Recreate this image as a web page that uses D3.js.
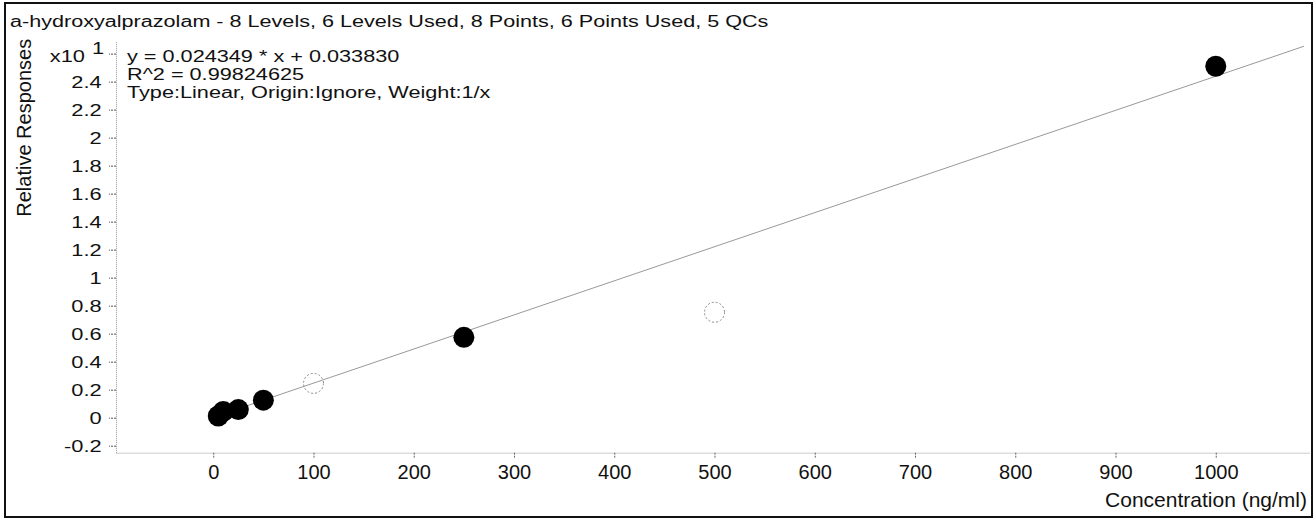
<!DOCTYPE html>
<html>
<head>
<meta charset="utf-8">
<script src="https://cdn.jsdelivr.net/npm/d3@7"></script>
<style>
  html, body { margin: 0; padding: 0; background: #fff; }
  svg { display: block; font-family: "Liberation Sans", Arial, sans-serif; }
</style>
</head>
<body>
<svg id="chart" width="1314" height="521"></svg>
<script>
// ---- data (relative responses shown in units of x10^1) ----
const calConc = [5, 10, 25, 50, 250, 1000];
const calResp = [0.012, 0.045, 0.058, 0.125, 0.574, 2.51];
const qcConc = [100, 500];
const qcResp = [0.245, 0.753];
const fitSlope = 0.024349;      // per ng/ml (actual response units)
const fitIntercept = 0.033830;
const fitRange = [0, 1088];
const yTickValues = [-0.2, 0, 0.2, 0.4, 0.6, 0.8, 1, 1.2, 1.4, 1.6, 1.8, 2, 2.2, 2.4];
const yTickLabels = ["-0.2", "0", "0.2", "0.4", "0.6", "0.8", "1", "1.2", "1.4", "1.6", "1.8", "2", "2.2", "2.4"];
const xTickValues = [0, 100, 200, 300, 400, 500, 600, 700, 800, 900, 1000];
const titleText = "a-hydroxyalprazolam - 8 Levels, 6 Levels Used, 8 Points, 6 Points Used, 5 QCs";
const infoLines = ["y = 0.024349 * x  + 0.033830", "R^2 = 0.99824625", "Type:Linear, Origin:Ignore, Weight:1/x"];
const exponentTick = 2.6;

const svg = d3.select("#chart");

// frame
svg.append("rect").attr("x", 5).attr("y", 3).attr("width", 1307).attr("height", 514)
  .attr("fill", "none").attr("stroke", "#111").attr("stroke-width", 2);

const x = d3.scaleLinear().domain([-97, 1094]).range([116, 1310]);
const y = d3.scaleLinear().domain([-0.25, 2.69]).range([452.7, 41]);

function wideText(sel, px, py, str, size, sx, anchor) {
  return sel.append("text")
    .attr("transform", `translate(${px},${py}) scale(${sx},1)`)
    .attr("font-size", size)
    .attr("text-anchor", anchor || "start")
    .attr("fill", "#111")
    .text(str);
}

// title
wideText(svg, 10, 26.5, titleText, 15.6, 1.385);

// y axis
const yAxis = svg.append("g").attr("transform", `translate(${x.range()[0]},0)`)
  .call(d3.axisLeft(y).tickValues(yTickValues.concat([exponentTick])).tickSize(7).tickSizeOuter(0)
    .tickFormat((d, i) => i < yTickLabels.length ? yTickLabels[i] : ""));
yAxis.select(".domain").attr("stroke", "#999").attr("stroke-dasharray", "1,1");
yAxis.selectAll(".tick line").attr("stroke", "#555").attr("stroke-dasharray", "2,1");
yAxis.selectAll(".tick text")
  .attr("font-size", 15.6).attr("fill", "#111").attr("font-family", null)
  .attr("x", -10.3).attr("dy", "0.36em").attr("transform", "scale(1.4,1)");

// exponent label
wideText(svg, 85, 61.5, "x10", 15.6, 1.4, "end");
wideText(svg, 92, y(exponentTick), "1", 15.6, 1.4, "start");

// x axis
const xAxis = svg.append("g").attr("transform", `translate(0,${y.range()[0]})`)
  .call(d3.axisBottom(x).tickValues(xTickValues).tickSize(6).tickSizeOuter(0).tickPadding(6)
    .tickFormat(d3.format("d")));
xAxis.select(".domain").attr("stroke", "#999").attr("stroke-dasharray", "1,1");
xAxis.selectAll(".tick line").attr("stroke", "#666").attr("stroke-dasharray", "2,1");
xAxis.selectAll(".tick text").attr("font-size", 20).attr("fill", "#111").attr("font-family", null);

// axis titles
svg.append("text").attr("transform", "translate(31,216.7) rotate(-90)")
  .attr("font-size", 20).attr("fill", "#111").text("Relative Responses");
svg.append("text").attr("x", 1307).attr("y", 507).attr("text-anchor", "end")
  .attr("font-size", 21).attr("fill", "#111").text("Concentration (ng/ml)");

// info text
const infoY = [61.5, 79.5, 97.5];
infoLines.forEach((t, i) => wideText(svg, 127, infoY[i], t, 15.6, 1.39));

// regression line (response / 10 for x10^1 display)
const line = d3.line().x(d => x(d)).y(d => y((fitSlope * d + fitIntercept) / 10));
svg.append("path").datum(fitRange).attr("d", line)
  .attr("fill", "none").attr("stroke", "#999").attr("stroke-width", 1);

// QC points (open, dashed)
svg.selectAll("circle.qc").data(qcConc).enter().append("circle").attr("class", "qc")
  .attr("cx", d => x(d)).attr("cy", (d, i) => y(qcResp[i])).attr("r", 10)
  .attr("fill", "none").attr("stroke", "#888").attr("stroke-width", 1).attr("stroke-dasharray", "2,2");

// calibration points (filled)
svg.selectAll("circle.cal").data(calConc).enter().append("circle").attr("class", "cal")
  .attr("cx", d => x(d)).attr("cy", (d, i) => y(calResp[i])).attr("r", 10.5)
  .attr("fill", "#000");
</script>
</body>
</html>
